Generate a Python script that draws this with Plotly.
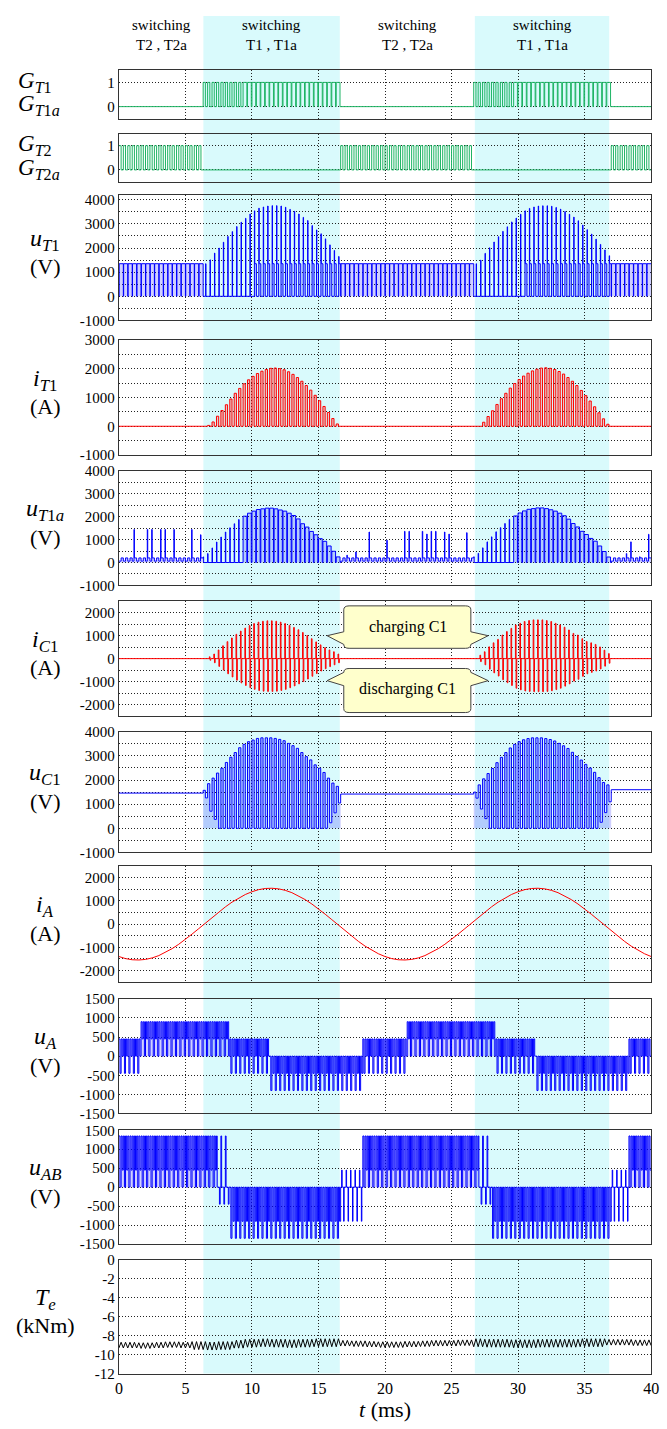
import numpy as np
import plotly.graph_objects as go

W, H = 667, 1429

# ---------------- time base ----------------
T_END = 40.0
TS = 1.0 / 3.0                      # switching period, ms (3 kHz carrier)
N_PER = int(round(T_END / TS))      # 120 switching periods

# intervals in which T1 / T1a are switching (ms)
band_t = [(6.35, 16.6), (26.75, 36.85)]
band_top = ["switching", "switching", "switching", "switching"]
band_sub = ["T2 , T2a", "T1 , T1a", "T2 , T2a", "T1 , T1a"]
band_label_t = [3.2, 11.5, 21.7, 31.8]

# ---------------- per-pulse values inside the T1 intervals (31 pulses each) -------------
ut1_peak = [
    [1350, 1510, 1790, 2000, 2240, 2480, 2680, 2890, 3070, 3230, 3410, 3540, 3650, 3700, 3740, 3755,
     3755, 3740, 3690, 3600, 3520, 3410, 3270, 3140, 2930, 2750, 2590, 2380, 2130, 1900, 1650],
    [1350, 1500, 1780, 2010, 2250, 2470, 2690, 2880, 3080, 3240, 3400, 3540, 3640, 3700, 3740, 3750,
     3750, 3730, 3680, 3610, 3510, 3400, 3280, 3130, 2950, 2760, 2580, 2370, 2150, 1920, 1680],
]
ut1_hold = [  # level held after each pulse (0 or Vdc/2)
    [0] * 11 + [1350] * 20,
    [0] * 11 + [1350] * 20,
]
it1_peak = [
    [0, 30, 150, 350, 550, 750, 950, 1150, 1320, 1480, 1620, 1740, 1840, 1920, 1980, 2020,
     2030, 2010, 1970, 1900, 1810, 1700, 1570, 1420, 1260, 1080, 890, 690, 480, 270, 80],
    [0, 20, 140, 340, 540, 760, 960, 1150, 1330, 1490, 1630, 1750, 1850, 1930, 1990, 2030,
     2040, 2020, 1980, 1910, 1820, 1700, 1570, 1420, 1250, 1070, 880, 680, 470, 260, 70],
]
ut1a_peak = [
    [245, 390, 635, 895, 1110, 1330, 1515, 1690, 1875, 2020, 2150, 2240, 2310, 2340, 2370, 2370,
     2340, 2290, 2240, 2150, 2050, 1900, 1690, 1545, 1355, 1210, 1040, 925, 720, 490, 245],
    [250, 400, 640, 900, 1120, 1340, 1520, 1700, 1880, 2030, 2160, 2250, 2320, 2350, 2380, 2380,
     2350, 2300, 2240, 2150, 2040, 1890, 1700, 1550, 1360, 1220, 1050, 930, 720, 480, 240],
]
ut1a_duty = [
    [0.1] * 9 + [0.85] * 22,
    [0.1] * 9 + [0.85] * 22,
]
ic1_pos = [
    [0, 80, 200, 380, 560, 740, 900, 1060, 1200, 1330, 1440, 1530, 1590, 1630, 1650, 1650,
     1630, 1590, 1530, 1450, 1360, 1260, 1140, 1010, 870, 730, 600, 480, 380, 300, 200],
    [0, 150, 300, 515, 690, 840, 1030, 1180, 1320, 1470, 1540, 1620, 1660, 1690, 1690, 1690,
     1660, 1620, 1540, 1470, 1370, 1250, 1100, 1030, 870, 750, 690, 620, 510, 370, 220],
]
ic1_neg = [
    [0, 70, 180, 340, 500, 660, 800, 940, 1060, 1170, 1270, 1340, 1390, 1420, 1430, 1430,
     1420, 1390, 1340, 1270, 1190, 1100, 1000, 890, 770, 650, 540, 440, 350, 270, 180],
    [0, 130, 270, 460, 620, 760, 920, 1050, 1170, 1290, 1360, 1410, 1430, 1440, 1440, 1440,
     1430, 1400, 1350, 1290, 1200, 1100, 980, 900, 770, 660, 600, 540, 450, 330, 200],
]
uc1_top = [
    [1575, 1850, 2080, 2290, 2490, 2730, 2945, 3140, 3340, 3480, 3590, 3660, 3725, 3750, 3750, 3750,
     3725, 3685, 3630, 3520, 3425, 3315, 3140, 2970, 2835, 2630, 2490, 2315, 2080, 1875, 1740],
    [1500, 1800, 2050, 2270, 2480, 2720, 2940, 3140, 3330, 3480, 3590, 3670, 3720, 3750, 3750, 3750,
     3720, 3680, 3620, 3520, 3420, 3310, 3150, 2980, 2830, 2650, 2500, 2320, 2100, 1900, 1800],
]
uc1_bot = [
    [1260, 710, 370, 0, 0, 0, 0, 0, 0, 0, 0, 0, 0, 0, 0, 0,
     0, 0, 0, 0, 0, 0, 0, 0, 0, 0, 0, 0, 230, 640, 1050],
    [1250, 800, 400, 0, 0, 0, 0, 0, 0, 0, 0, 0, 0, 0, 0, 0,
     0, 0, 0, 0, 0, 0, 0, 0, 0, 0, 0, 0, 250, 650, 1100],
]
uc1_idle = [1460, 1420, 1600]       # capacitor voltage while T1/T1a are idle

# u_T1a spikes while idle (time ms, height V)
ut1a_spike_t = [1.0, 2.0, 2.35, 3.0, 3.37, 4.03, 5.39, 6.05, 17.2, 17.8, 18.9, 20.3,
                21.4, 21.7, 22.7, 23.05, 23.4, 23.8, 24.45, 24.8, 26.05, 38.0, 38.35, 39.0, 39.7]
ut1a_spike_v = [1440, 1440, 1440, 1440, 1440, 1440, 1440, 1210, 320, 460, 1330, 970,
                1360, 1360, 1360, 1240, 1360, 1360, 1330, 1240, 1300, 390, 900, 250, 1230]
ut1a_idle = (60, 200)

# output voltages: interval edges (ms) and the levels visited in each period
ua_t = [0.0, 1.6, 8.2, 11.5, 18.2, 21.6, 28.2, 31.5, 38.2, 40.0]
ua_lv = [(450, -450, 450, 0), (900, 450, 900, 0), (450, -450, 450, 0), (0, -900, 0, -450),
         (450, -450, 450, 0), (900, 450, 900, 0), (450, -450, 450, 0), (0, -900, 0, -450),
         (450, -450, 450, 0)]
uab_t = [0.0, 7.2, 8.2, 16.6, 18.2, 27.1, 27.9, 37.0, 38.4, 40.0]
uab_lv = [(1350, 0, 1350, 450), (1350, 0, 0, 0, -450, 0), (0, -1350, 0, -900),
          (0, 0, 450, 0, 0, 0, -900, 0, 0), (1350, 0, 1350, 450), (1350, 0, 0, 0, -450, 0),
          (0, -1350, 0, -900), (0, 0, 450, 0, 0, 0, -900, 0, 0), (1350, 0, 1350, 450)]

# phase current, read every 0.5 ms (0 ... 40 ms)
ia_t = [i * 0.5 for i in range(81)]
ia_v = [-1400, -1490, -1540, -1550, -1525, -1460, -1360, -1225, -1060, -870, -660, -430, -195, 50,
        290, 525, 745, 950, 1130, 1280, 1400, 1490, 1540, 1550, 1525, 1460, 1360, 1225, 1060, 870,
        660, 430, 195, -50, -290, -525, -745, -950, -1130, -1280,
        -1400, -1490, -1540, -1550, -1525, -1460, -1360, -1225, -1060, -870, -660, -430, -195, 50,
        290, 525, 745, 950, 1130, 1280, 1400, 1490, 1540, 1550, 1525, 1460, 1360, 1225, 1060, 870,
        660, 430, 195, -50, -290, -525, -745, -950, -1130, -1280, -1400]

# electromagnetic torque: mean and ripple per millisecond (kNm)
te_mean = [-9.0, -9.0, -9.05, -9.0, -8.95, -9.0, -9.05, -9.1, -9.05, -8.9, -8.8, -8.75, -8.8, -8.85,
           -8.8, -8.75, -8.75, -8.8, -8.85, -8.9, -8.95, -8.95, -8.9, -8.85, -8.8, -8.8, -8.75,
           -8.75, -8.8, -8.8, -8.85, -8.85, -8.8, -8.8, -8.8, -8.75, -8.75, -8.7, -8.7, -8.75, -8.75]
te_ripple = [0.3] * 6 + [0.42] * 11 + [0.3] * 10 + [0.42] * 10 + [0.3] * 4

# ---------------- waveform assembly ----------------
band_k = [[k for k in range(N_PER) if a <= (k + 0.5) * TS <= b] for a, b in band_t]


def in_band(k):
    for j, ks in enumerate(band_k):
        if k in ks:
            return j, ks.index(k)
    return None, None


def build(pattern):
    xs, ys = [], []
    for k in range(N_PER):
        t = k * TS
        for frac, lev in pattern(k):
            t1 = t + frac * TS
            xs.extend((t, t1))
            ys.extend((lev, lev))
            t = t1
    return xs, ys


def region_levels(tb, lv, k):
    c = (k + 0.5) * TS
    for i in range(len(lv)):
        if tb[i] <= c < tb[i + 1]:
            return lv[i]
    return lv[-1]


def p_gt1(k):
    j, i = in_band(k)
    if j is None:
        return [(1, 0)]
    d = 0.5 if i < 9 else 0.85
    return [(d, 1), (1 - d, 0)]


def p_gt2(k):
    j, i = in_band(k)
    if j is not None:
        return [(1, 0)]
    return [(0.5, 1), (0.5, 0)]


def p_ut1(k):
    j, i = in_band(k)
    if j is None:
        return [(0.07, 0), (0.93, 1350)]
    return [(0.55, 0), (0.08, ut1_peak[j][i]), (0.37, ut1_hold[j][i])]


def p_it1(k):
    j, i = in_band(k)
    if j is None:
        return [(1, 0)]
    return [(0.5, it1_peak[j][i]), (0.5, 0)]


def p_ut1a(k):
    j, i = in_band(k)
    if j is None:
        for ts, v in zip(ut1a_spike_t, ut1a_spike_v):
            if k * TS <= ts < (k + 1) * TS:
                return [(0.4, ut1a_idle[0]), (0.1, v), (0.5, ut1a_idle[1])]
        return [(0.5, ut1a_idle[0]), (0.5, ut1a_idle[1])]
    d = ut1a_duty[j][i]
    return [(d, ut1a_peak[j][i]), (1 - d, 0)]


def p_ic1(k):
    j, i = in_band(k)
    if j is None:
        return [(1, 0)]
    return [(0.4, 0), (0.15, ic1_pos[j][i]), (0.15, -ic1_neg[j][i]), (0.3, 0)]


def p_uc1(k):
    j, i = in_band(k)
    if j is None:
        c = (k + 0.5) * TS
        seg = 0 if c < band_t[0][0] else (1 if c < band_t[1][0] else 2)
        return [(1, uc1_idle[seg])]
    return [(0.5, uc1_top[j][i]), (0.5, uc1_bot[j][i])]


def p_uc1_fill(k):
    j, i = in_band(k)
    if j is None:
        return [(1, 0)]
    return p_uc1(k)


def p_levels(tb, lv):
    def f(k):
        levels = region_levels(tb, lv, k)
        return [(1.0 / len(levels), v) for v in levels]
    return f


te_x, te_y = [], []
for j in range(2 * N_PER + 1):
    t = j * TS / 2
    m = int(round(t))
    te_x.append(t)
    te_y.append(te_mean[m] + (1 if j % 2 else -1) * te_ripple[m])

BLUE = "rgb(0,0,255)"
RED = "rgb(255,0,0)"
GREEN = "rgb(30,180,100)"
BLUE_F = "rgba(40,40,255,0.22)"
RED_F = "rgba(255,40,40,0.22)"

# (line data, colour, fill data, fill colour)
series = [
    (build(p_gt1), GREEN, None, None),
    (build(p_gt2), GREEN, None, None),
    (build(p_ut1), BLUE, "same", BLUE_F),
    (build(p_it1), RED, "same", RED_F),
    (build(p_ut1a), BLUE, "same", BLUE_F),
    (build(p_ic1), RED, "same", RED_F),
    (build(p_uc1), BLUE, build(p_uc1_fill), BLUE_F),
    ((ia_t, ia_v), RED, None, None),
    (build(p_levels(ua_t, ua_lv)), BLUE, "same", BLUE_F),
    (build(p_levels(uab_t, uab_lv)), BLUE, "same", BLUE_F),
    ((te_x, te_y), "black", None, None),
]

# ---------------- panel geometry (pixels) and y axes ----------------
panels = [
    # top, bottom, y range, labelled ticks, minor grid step, (symbol, unit)
    (63, 112, [-0.5, 1.5], [0, 1], None,
     ("<i>G</i><sub><i>T</i>1</sub>", "<i>G</i><sub><i>T</i>1<i>a</i></sub>")),
    (127, 176, [-0.5, 1.5], [0, 1], None,
     ("<i>G</i><sub><i>T</i>2</sub>", "<i>G</i><sub><i>T</i>2<i>a</i></sub>")),
    (189, 316, [-1000, 4200], list(range(-1000, 4001, 1000)), 500, ("<i>u</i><sub><i>T</i>1</sub>", "(V)")),
    (336, 452, [-1000, 3000], list(range(-1000, 3001, 1000)), 500, ("<i>i</i><sub><i>T</i>1</sub>", "(A)")),
    (468, 584, [-1000, 4000], list(range(-1000, 4001, 1000)), 500,
     ("<i>u</i><sub><i>T</i>1<i>a</i></sub>", "(V)")),
    (600, 716, [-2500, 2500], list(range(-2000, 2001, 1000)), 500, ("<i>i</i><sub><i>C</i>1</sub>", "(A)")),
    (732, 854, [-1000, 4000], list(range(-1000, 4001, 1000)), 500, ("<i>u</i><sub><i>C</i>1</sub>", "(V)")),
    (868, 985, [-2500, 2500], list(range(-2000, 2001, 1000)), 500, ("<i>i</i><sub><i>A</i></sub>", "(A)")),
    (1002, 1118, [-1500, 1500], list(range(-1500, 1501, 500)), None, ("<i>u</i><sub><i>A</i></sub>", "(V)")),
    (1135, 1250, [-1500, 1500], list(range(-1500, 1501, 500)), None, ("<i>u</i><sub><i>AB</i></sub>", "(V)")),
    (1266, 1381, [-12, 0], list(range(-12, 1, 2)), None, ("<i>T</i><sub><i>e</i></sub>", "(kNm)")),
]

X0, X1 = 117, 659
SERIF = "Liberation Serif"
GRID = dict(showgrid=True, gridcolor="#222", gridwidth=1, griddash="1px,2px")
FRAME = dict(showline=True, mirror=True, linecolor="#333", linewidth=1.3, zeroline=False, ticks="")

fig = go.Figure()
layout = dict(
    width=W, height=H, margin=dict(l=0, r=0, t=0, b=0),
    paper_bgcolor="white", plot_bgcolor="rgba(0,0,0,0)", showlegend=False,
    font=dict(family=SERIF, size=15, color="black"),
)
annotations, shapes = [], []


def note(text, x, y, size, xanchor="center", xref="paper", yref="paper"):
    annotations.append(dict(text=text, x=x, y=y, xref=xref, yref=yref, showarrow=False,
                            xanchor=xanchor, yanchor="middle", font=dict(family=SERIF, size=size)))


n = len(panels)
for idx, (top, bot, yr, tv, minor_step, (sym, unit)) in enumerate(panels, start=1):
    sfx = "" if idx == 1 else str(idx)
    last = idx == n
    layout["xaxis" + sfx] = dict(
        domain=[X0 / W, X1 / W], range=[0, T_END], anchor="y" + sfx,
        tickvals=list(range(0, 41, 5)), ticktext=[str(v) for v in range(0, 41, 5)],
        showticklabels=last, tickfont=dict(size=16), ticklabeloverflow="allow", **GRID, **FRAME,
        **({} if idx == 1 else dict(matches="x")),
    )
    yax = dict(
        domain=[1 - bot / H, 1 - top / H], range=yr, anchor="x" + sfx,
        tickvals=tv, ticktext=[str(v) for v in tv], tickfont=dict(size=15), **GRID, **FRAME,
    )
    if minor_step:
        yax["minor"] = dict(tickmode="linear", tick0=0, dtick=minor_step, showgrid=True,
                            gridcolor="#222", gridwidth=1, griddash="1px,2px", ticks="")
    layout["yaxis" + sfx] = yax
    (xs, ys), col, fill, fcol = series[idx - 1]
    if fill is not None:
        fx, fy = (xs, ys) if fill == "same" else fill
        fig.add_trace(go.Scatter(x=fx, y=fy, mode="lines", line=dict(width=0), fill="tozeroy",
                                 fillcolor=fcol, xaxis="x" + sfx, yaxis="y" + sfx, hoverinfo="skip"))
    fig.add_trace(go.Scatter(x=xs, y=ys, mode="lines", line=dict(color=col, width=1),
                             xaxis="x" + sfx, yaxis="y" + sfx, hoverinfo="skip"))
    mid = (top + bot) / 2
    if idx <= 2:
        note(sym, 12 / W, 1 - (mid - 13) / H, 23, "left")
        note(unit, 12 / W, 1 - (mid + 11) / H, 23, "left")
    else:
        note(sym, 42 / W, 1 - (mid - 18) / H, 24)
        note(unit, 42 / W, 1 - (mid + 9) / H, 22)

# shaded T1/T1a switching intervals spanning all panels
for a, b in band_t:
    shapes.append(dict(type="rect", xref="x", yref="paper", x0=a, x1=b,
                       y0=1 - panels[-1][1] / H, y1=1 - 8 / H,
                       fillcolor="rgb(217,250,252)", line=dict(width=0), layer="below"))

# interval captions
for t, l1, l2 in zip(band_label_t, band_top, band_sub):
    note(l1, t, 1 - 17 / H, 15, xref="x")
    note(l2, t, 1 - 37 / H, 15, xref="x")

note("<i>t</i> (ms)", 388 / W, 1 - 1417 / H, 22)


# speech-bubble callouts in the capacitor-current panel
def bubble(xl, xr, yb, yt, att_hi, att_lo, ytip, xtl, xtr, rx=0.4, ry=170):
    return (f"M {xl + rx},{yt} H {xr - rx} Q {xr},{yt} {xr},{yt - ry} V {att_hi} L {xtr},{ytip} "
            f"L {xr},{att_lo} V {yb + ry} Q {xr},{yb} {xr - rx},{yb} H {xl + rx} "
            f"Q {xl},{yb} {xl},{yb + ry} V {att_lo} L {xtl},{ytip} L {xl},{att_hi} "
            f"V {yt - ry} Q {xl},{yt} {xl + rx},{yt} Z")


callouts = [
    ("charging C1", bubble(16.9, 26.45, 450, 2300, 1170, 620, 1000, 15.65, 27.75), 1400),
    ("discharging C1", bubble(16.9, 26.45, -2350, -430, -600, -1180, -960, 15.65, 27.75), -1330),
]
for txt, path, ytxt in callouts:
    shapes.append(dict(type="path", path=path, xref="x6", yref="y6", fillcolor="rgb(255,255,204)",
                       line=dict(color="#444", width=1), layer="above"))
    note(txt, 21.7, ytxt, 16, xref="x6", yref="y6")

layout["annotations"] = annotations
layout["shapes"] = shapes
fig.update_layout(**layout)
fig.write_html("out.html")
